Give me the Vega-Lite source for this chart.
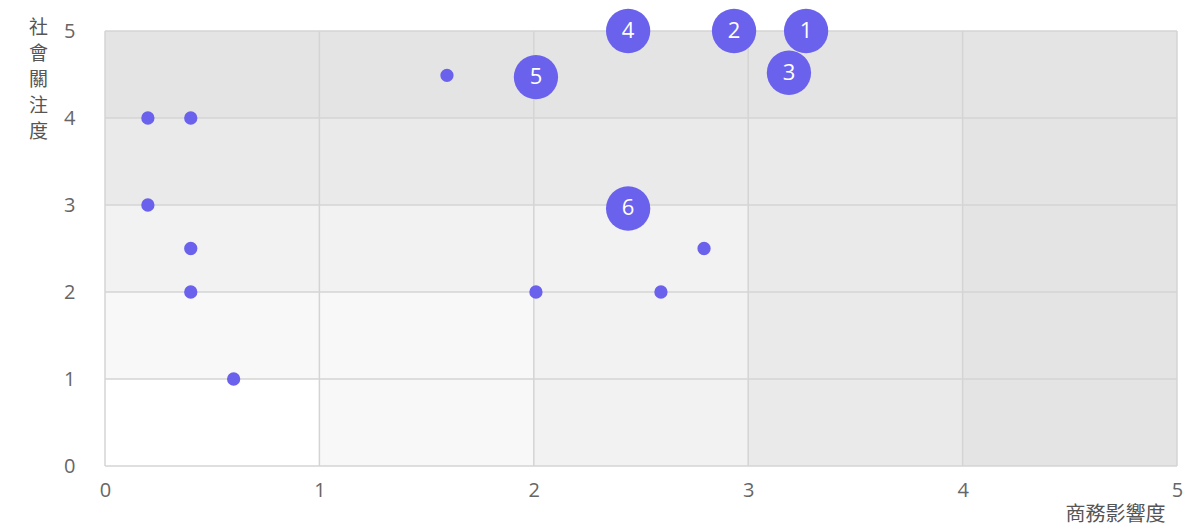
{
  "$schema": "https://vega.github.io/schema/vega-lite/v6.json",
  "width": 1072,
  "height": 435,
  "autosize": {"type": "none"},
  "padding": {"left": 105, "top": 31, "right": 18, "bottom": 66},
  "background": "#ffffff",
  "config": {
    "view": {"stroke": null},
    "font": "Open Sans"
  },
  "datasets": {
    "zones": [
      {"lo": 0, "k": 5, "color": "#e4e4e4"},
      {"lo": 0, "k": 4, "color": "#eaeaea"},
      {"lo": 0, "k": 3, "color": "#f2f2f2"},
      {"lo": 0, "k": 2, "color": "#f8f8f8"},
      {"lo": 0, "k": 1, "color": "#ffffff"}
    ],
    "grid": [
      {"v": 0}, {"v": 1}, {"v": 2}, {"v": 3}, {"v": 4}, {"v": 5}
    ],
    "points": [
      {"impact": 0.2, "concern": 4, "label": "", "size": 177},
      {"impact": 0.4, "concern": 4, "label": "", "size": 177},
      {"impact": 0.2, "concern": 3, "label": "", "size": 177},
      {"impact": 0.4, "concern": 2.5, "label": "", "size": 177},
      {"impact": 0.4, "concern": 2, "label": "", "size": 177},
      {"impact": 0.6, "concern": 1, "label": "", "size": 177},
      {"impact": 1.595, "concern": 4.49, "label": "", "size": 177},
      {"impact": 2.01, "concern": 2, "label": "", "size": 177},
      {"impact": 2.593, "concern": 2, "label": "", "size": 177},
      {"impact": 2.794, "concern": 2.5, "label": "", "size": 177},
      {"impact": 2.01, "concern": 4.47, "label": "5", "size": 1963},
      {"impact": 2.44, "concern": 5, "label": "4", "size": 1963},
      {"impact": 2.934, "concern": 5, "label": "2", "size": 1963},
      {"impact": 3.27, "concern": 5, "label": "1", "size": 1963},
      {"impact": 3.19, "concern": 4.52, "label": "3", "size": 1963},
      {"impact": 2.44, "concern": 2.96, "label": "6", "size": 1963}
    ]
  },
  "layer": [
    {
      "data": {"name": "zones"},
      "mark": {"type": "rect"},
      "encoding": {
        "x": {
          "field": "lo", "type": "quantitative",
          "scale": {"domain": [0, 5], "nice": false},
          "axis": {
            "title": "商務影響度",
            "values": [0, 1, 2, 3, 4, 5],
            "format": "d",
            "grid": false,
            "domain": false,
            "ticks": false,
            "labelFlush": false,
            "labelPadding": 14, "labelFontSize": 20, "labelColor": "#666666",
            "labelFont": "Open Sans",
            "titleFontSize": 20, "titleFontWeight": "normal", "titleColor": "#555555",
            "titleFont": "Noto Sans CJK TC",
            "titleAlign": "right",
            "titleX": 1060, "titleY": 38, "titleBaseline": "top"
          }
        },
        "x2": {"field": "k"},
        "y": {
          "field": "lo", "type": "quantitative",
          "scale": {"domain": [0, 5], "nice": false},
          "axis": {
            "title": ["社", "會", "關", "注", "度"],
            "values": [0, 1, 2, 3, 4, 5],
            "format": "d",
            "grid": false,
            "domain": false,
            "ticks": false,
            "labelFlush": false,
            "labelPadding": 30, "labelFontSize": 20, "labelColor": "#666666",
            "labelFont": "Open Sans",
            "titleFontSize": 19, "titleFontWeight": "normal", "titleColor": "#555555",
            "titleFont": "Noto Sans CJK TC",
            "titleAngle": 0, "titleAlign": "center", "titleBaseline": "top",
            "titleLineHeight": 26,
            "titleX": -67, "titleY": -13
          }
        },
        "y2": {"field": "k"},
        "color": {"field": "color", "type": "nominal", "scale": null}
      }
    },
    {
      "data": {"name": "grid"},
      "mark": {"type": "rule", "color": "#d4d4d4", "strokeWidth": 1.5},
      "encoding": {
        "x": {"field": "v", "type": "quantitative"}
      }
    },
    {
      "data": {"name": "grid"},
      "mark": {"type": "rule", "color": "#d4d4d4", "strokeWidth": 1.5},
      "encoding": {
        "y": {"field": "v", "type": "quantitative"}
      }
    },
    {
      "data": {"name": "points"},
      "mark": {"type": "circle", "opacity": 1, "color": "#6a62ed"},
      "encoding": {
        "x": {"field": "impact", "type": "quantitative"},
        "y": {"field": "concern", "type": "quantitative"},
        "size": {"field": "size", "type": "quantitative", "scale": null, "legend": null}
      }
    },
    {
      "data": {"name": "points"},
      "transform": [{"filter": "datum.label != ''"}],
      "mark": {"type": "text", "color": "#ffffff", "fontSize": 22, "font": "Open Sans", "baseline": "middle", "align": "center"},
      "encoding": {
        "x": {"field": "impact", "type": "quantitative"},
        "y": {"field": "concern", "type": "quantitative"},
        "text": {"field": "label"}
      }
    }
  ]
}
